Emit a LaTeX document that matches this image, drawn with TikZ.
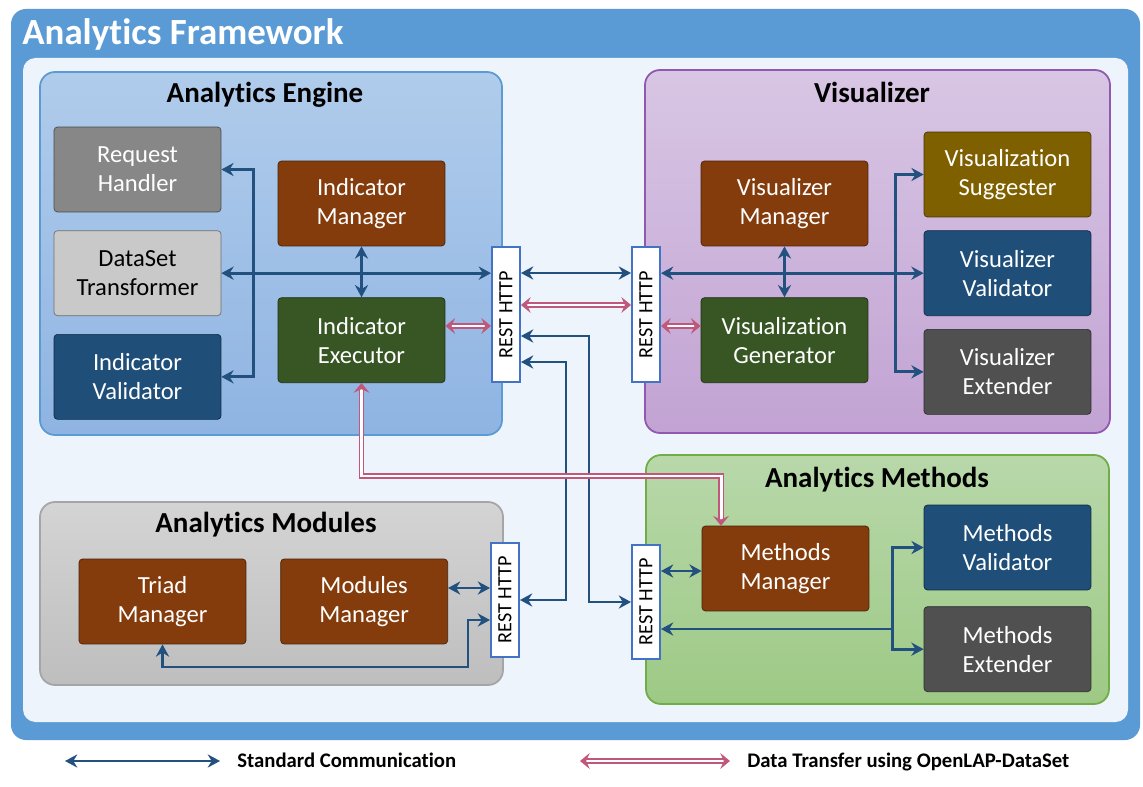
\documentclass[tikz,border=0pt]{standalone}
\usepackage{fontspec}
\usepackage{graphicx}
\setmainfont{Carlito}[Ligatures=NoCommon]
\usetikzlibrary{arrows,arrows.meta,positioning}

\definecolor{frameblue}{HTML}{5B9BD5}
\definecolor{paleback}{HTML}{EEF4FB}
\definecolor{commblue}{HTML}{22507F}
\definecolor{datapink}{HTML}{C0587B}
\definecolor{restblue}{HTML}{4472C4}
\definecolor{mgrbrown}{HTML}{843C0C}
\definecolor{exegreen}{HTML}{375623}
\definecolor{valblue}{HTML}{1F4E79}
\definecolor{sugolive}{HTML}{7F6000}
\definecolor{extgray}{HTML}{505050}
\definecolor{reqgray}{HTML}{878787}
\definecolor{dstgray}{HTML}{C9C9C9}
\definecolor{enginetop}{HTML}{B0CCEB}
\definecolor{enginebot}{HTML}{8FB4E2}
\definecolor{vistop}{HTML}{D8C6E4}
\definecolor{visbot}{HTML}{C2A3D3}
\definecolor{visline}{HTML}{9058B0}
\definecolor{methtop}{HTML}{B8D8AA}
\definecolor{methbot}{HTML}{9DC985}
\definecolor{methline}{HTML}{70AD47}
\definecolor{modtop}{HTML}{D4D4D4}
\definecolor{modbot}{HTML}{BEBEBE}
\definecolor{modline}{HTML}{A5A5A5}

\begin{document}
\begin{tikzpicture}[x=0.02cm,y=-0.02cm,>={Stealth[length=7pt,width=7.5pt,inset=2.3pt]},
    comp/.style={fill=#1,draw=#1!55!black,text=white,rounded corners=2pt,
                 minimum width=3.34cm,minimum height=1.7cm,align=center,
                 font=\fontsize{14}{16.5}\selectfont},
    grouptitle/.style={font=\fontsize{16.5}{18}\selectfont\bfseries,anchor=base,inner sep=0pt},
    rest/.style={draw=restblue,fill=white,line width=1.1pt,minimum width=0.56cm,
                 inner sep=0pt,font=\fontsize{11.5}{12}\selectfont},
    comm/.style={<->,draw=commblue,line width=1.6pt},
    data/.style={{Stealth[length=5.5pt,width=9pt,inset=2pt]}-{Stealth[length=5.5pt,width=9pt,inset=2pt]},
                 draw=datapink,double=white,double distance=1.7pt,line width=0.85pt},
    legendtext/.style={font=\fontsize{11.8}{13}\selectfont\bfseries,anchor=base west,inner sep=0pt}]

  \useasboundingbox (0,0) rectangle (1143,787);

  % framework
  \fill[frameblue,rounded corners=0.3cm] (11,9) rectangle (1140,740);
  \fill[paleback,rounded corners=0.25cm] (23,58) rectangle (1128,722);
  \node[text=white,font=\fontsize{21}{22}\selectfont\bfseries,anchor=base west,inner sep=0pt]
       (fwtitle) at (22,45) {Analytics Framework};

  % groups
  \draw[draw=frameblue,top color=enginetop,bottom color=enginebot,
        rounded corners=0.3cm,line width=1pt] (40,72) rectangle (502,435);
  \draw[draw=visline,top color=vistop,bottom color=visbot,
        rounded corners=0.3cm,line width=1pt] (645,70) rectangle (1110,433);
  \draw[draw=methline,top color=methtop,bottom color=methbot,
        rounded corners=0.3cm,line width=1pt] (646,455) rectangle (1109,704);
  \draw[draw=modline,top color=modtop,bottom color=modbot,
        rounded corners=0.3cm,line width=1pt] (40,502) rectangle (503,685);

  \node[grouptitle] (enginetitle)  at (265,103) {Analytics Engine};
  \node[grouptitle] (vistitle)     at (872,103) {Visualizer};
  \node[grouptitle] (methodstitle) at (877,487) {Analytics Methods};
  \node[grouptitle] (modulestitle) at (266,532) {Analytics Modules};

  % analytics engine
  \node[comp=reqgray] (req) at (137.5,169.5) {Request\\Handler};
  \node[comp=dstgray,text=black] (dst) [below=0.36cm of req] {DataSet\\Transformer};
  \node[comp=valblue] (ival) [below=0.36cm of dst] {Indicator\\Validator};
  \node[comp=mgrbrown] (imgr) at (361.5,203.5) {Indicator\\Manager};
  \node[comp=exegreen] (iexe) [below=1.02cm of imgr] {Indicator\\Executor};

  % visualizer
  \node[comp=mgrbrown] (vmgr) at (784.5,203.5) {Visualizer\\Manager};
  \node[comp=exegreen] (vgen) [below=1.02cm of vmgr] {Visualization\\Generator};
  \node[comp=sugolive] (vsug) at (1007.5,174.5) {Visualization\\Suggester};
  \node[comp=valblue] (vval) [below=0.26cm of vsug] {Visualizer\\Validator};
  \node[comp=extgray] (vext) [below=0.26cm of vval] {Visualizer\\Extender};

  % analytics methods
  \node[comp=mgrbrown] (mmgr) at (785.5,568.5) {Methods\\Manager};
  \node[comp=valblue] (mval) at (1007.5,547.5) {Methods\\Validator};
  \node[comp=extgray] (mext) [below=0.32cm of mval] {Methods\\Extender};

  % analytics modules
  \node[comp=mgrbrown] (triad) at (162.5,601.5) {Triad\\Manager};
  \node[comp=mgrbrown] (modmgr) [right=0.68cm of triad] {Modules\\Manager};

  % rest interfaces
  \node[rest,minimum height=2.7cm]  (rest1) at (506,314.5) {\rotatebox{90}{REST HTTP}};
  \node[rest,minimum height=2.7cm]  (rest2) at (646,314.5) {\rotatebox{90}{REST HTTP}};
  \node[rest,minimum height=2.28cm] (rest3) at (646,602)   {\rotatebox{90}{REST HTTP}};
  \node[rest,minimum height=2.28cm] (rest4) at (505,600)   {\rotatebox{90}{REST HTTP}};

  \coordinate (lnk1)  at (589,336);
  \coordinate (lnk2)  at (566,362);
  \coordinate (dtop)  at (721,476);
  \coordinate (mbus)  at (893,629);
  \coordinate (mloop) at (468,667);

  % engine links
  \draw[comm] (req.east) -- ++(32,0) |- (ival.east);
  \draw[comm] (dst.east) -- (rest1.west |- dst.east);
  \draw[comm] (imgr.south) -- (iexe.north);
  \draw[data] (iexe.east |- 0,326) -- (rest1.west |- 0,326);

  % engine <-> visualizer
  \draw[comm] (rest1.east |- 0,273) -- (rest2.west |- 0,273);
  \draw[data] (rest1.east |- 0,305) -- (rest2.west |- 0,305);

  % visualizer links
  \draw[comm] (rest2.east |- vval.west) -- (vval.west);
  \draw[comm] (vmgr.south) -- (vgen.north);
  \draw[comm] (vsug.west) -- ++(-28,0) |- (vext.west);
  \draw[data] (rest2.east |- 0,326) -- (vgen.west |- 0,326);

  % engine <-> methods, modules
  \draw[comm] (lnk1 -| rest1.east) -- (lnk1) |- (rest3.west);
  \draw[comm] (lnk2 -| rest1.east) -- (lnk2) |- (rest4.east);
  \draw[data] (iexe.south) |- (dtop) -- (dtop |- mmgr.north);

  % methods links
  \draw[comm] (rest3.east |- 0,571) -- (mmgr.west |- 0,571);
  \draw[comm] (mval.west) -- ++(-31,0) |- (mext.west);
  \draw[comm,-{Stealth[length=7pt,width=7.5pt,inset=2.3pt]}] (mbus) -- (rest3.east |- mbus);

  % modules links
  \draw[comm] (modmgr.east |- 0,588) -- (rest4.west |- 0,588);
  \draw[comm] (triad.south) |- (mloop) |- (rest4.west |- 0,620);

  % legend
  \coordinate (lgcommA) at (65,761);
  \coordinate (lgcommB) at (220,761);
  \coordinate (lgdataA) at (580,761);
  \coordinate (lgdataB) at (730,761);
  \draw[comm] (lgcommA) -- (lgcommB);
  \draw[data] (lgdataA) -- (lgdataB);
  \node[legendtext] (lgcomm) at (237,767) {Standard Communication};
  \node[legendtext] (lgdata) at (747,767) {Data Transfer using OpenLAP-DataSet};

\end{tikzpicture}
\end{document}
